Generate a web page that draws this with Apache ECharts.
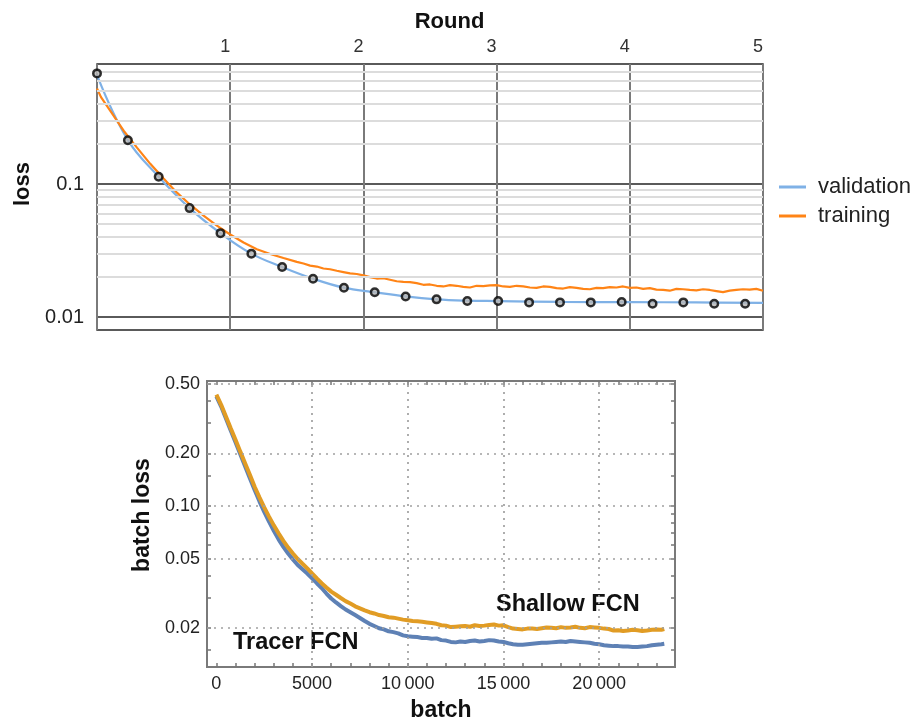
<!DOCTYPE html>
<html>
<head>
<meta charset="utf-8">
<script src="https://cdn.jsdelivr.net/npm/echarts@6/dist/echarts.min.js"></script>
<style>
html,body{margin:0;padding:0;background:#fff;}
#chart{width:912px;height:724px;}
</style>
</head>
<body>
<div id="chart"></div>
<script>
// ---------- Top chart data (loss vs Round) ----------
var valRound = [0, 0.232, 0.463, 0.695, 0.927, 1.159, 1.390, 1.622, 1.854, 2.085, 2.317, 2.549, 2.780, 3.012, 3.244, 3.476, 3.707, 3.939, 4.171, 4.402, 4.634, 4.866];
var valLoss  = [0.68, 0.214, 0.1135, 0.066, 0.0428, 0.030, 0.0238, 0.01945, 0.01664, 0.0154, 0.0143, 0.0136, 0.0132, 0.0132, 0.0129, 0.0129, 0.0129, 0.0130, 0.0126, 0.0129, 0.0126, 0.0126];
var valCurveRound = [0, 0.232, 0.463, 0.695, 0.927, 1.159, 1.390, 1.622, 1.854, 2.085, 2.317, 2.549, 2.780, 3.012, 3.5, 4.0, 4.5, 5.0];
var valCurveLoss  = [0.66, 0.214, 0.1135, 0.066, 0.0428, 0.030, 0.0238, 0.01945, 0.01664, 0.0154, 0.0143, 0.0136, 0.0133, 0.0132, 0.0130, 0.01295, 0.0129, 0.0128];
var trainRound = [0, 0.03, 0.1, 0.2, 0.3, 0.4, 0.5, 0.6, 0.7, 0.8, 0.9, 1.0, 1.1, 1.2, 1.3, 1.4,
  1.5, 1.55, 1.6, 1.65, 1.7, 1.75, 1.8, 1.85, 1.9, 1.95, 2.0, 2.05, 2.1, 2.15, 2.2, 2.25, 2.3, 2.35, 2.4, 2.45,
  2.5, 2.55, 2.6, 2.65, 2.7, 2.75, 2.8, 2.85, 2.9, 2.95, 3.0, 3.05, 3.1, 3.15, 3.2, 3.25, 3.3, 3.35, 3.4, 3.45,
  3.5, 3.55, 3.6, 3.65, 3.7, 3.75, 3.8, 3.85, 3.9, 3.95, 4.0, 4.05, 4.1, 4.15, 4.2, 4.25, 4.3, 4.35, 4.4, 4.45,
  4.5, 4.55, 4.6, 4.65, 4.7, 4.75, 4.8, 4.85, 4.9, 4.95, 5.0];
var trainLoss  = [0.524, 0.451, 0.355, 0.252, 0.188, 0.142, 0.110, 0.0862, 0.0700, 0.0580, 0.0487, 0.0418, 0.0364, 0.0324, 0.0298, 0.0278,
  0.0260, 0.0253, 0.0244, 0.0240, 0.0232, 0.0229, 0.0223, 0.0218, 0.0213, 0.0211, 0.0206, 0.0200, 0.0195, 0.0196, 0.0191, 0.0186, 0.0184, 0.0183, 0.0180, 0.0175,
  0.0176, 0.0172, 0.0170, 0.0174, 0.0172, 0.0169, 0.0167, 0.0172, 0.0171, 0.0173, 0.0174, 0.0170, 0.0169, 0.0172, 0.0170, 0.0167, 0.0166, 0.0170, 0.0169, 0.0165,
  0.0164, 0.0168, 0.0166, 0.0163, 0.0162, 0.0166, 0.0165, 0.0168, 0.0167, 0.0170, 0.0166, 0.0167, 0.0163, 0.0165, 0.0161, 0.0160, 0.0158, 0.0163, 0.0162, 0.0160,
  0.0159, 0.0162, 0.0160, 0.0157, 0.0154, 0.0158, 0.0160, 0.0162, 0.0161, 0.0163, 0.0158];
var topYLabels = [0.01, 0.1];
var topMinorGrid = [0.02, 0.03, 0.04, 0.05, 0.06, 0.07, 0.08, 0.09, 0.2, 0.3, 0.4, 0.5, 0.6, 0.7];

// ---------- Bottom chart data (batch loss vs batch) ----------
var batchSteps = [0, 250, 500, 750, 1000, 1250, 1500, 1750, 2000, 2250, 2500, 2750, 3000, 3250, 3500, 3750, 4000, 4250, 4500, 4750,
  5000, 5250, 5500, 5750, 6000, 6250, 6500, 6750, 7000, 7250, 7500, 7750, 8000, 8250, 8500, 8750, 9000, 9250, 9500, 9750,
  10000, 10250, 10500, 10750, 11000, 11250, 11500, 11750, 12000, 12250, 12500, 12750, 13000, 13250, 13500, 13750, 14000, 14250, 14500, 14750,
  15000, 15250, 15500, 15750, 16000, 16250, 16500, 16750, 17000, 17250, 17500, 17750, 18000, 18250, 18500, 18750, 19000, 19250, 19500, 19750,
  20000, 20250, 20500, 20750, 21000, 21250, 21500, 21750, 22000, 22250, 22500, 22750, 23000, 23250, 23400];
var shallowLoss = [0.435, 0.380, 0.326, 0.279, 0.240, 0.205, 0.176, 0.151, 0.129, 0.1123, 0.0983, 0.0871, 0.0776, 0.0698, 0.0633, 0.0579, 0.0536, 0.0498, 0.0468, 0.0440,
  0.0412, 0.0386, 0.0362, 0.0342, 0.0324, 0.0311, 0.0298, 0.0286, 0.0277, 0.0267, 0.0260, 0.0253, 0.0247, 0.0243, 0.0238, 0.0235, 0.0231, 0.0230, 0.0227, 0.0224,
  0.0222, 0.0220, 0.0219, 0.0218, 0.0216, 0.0214, 0.0212, 0.0208, 0.0207, 0.0203, 0.0204, 0.0205, 0.0206, 0.0204, 0.0208, 0.0206, 0.0207, 0.0209, 0.0210, 0.0207,
  0.0208, 0.0203, 0.0199, 0.0198, 0.0197, 0.0199, 0.0199, 0.0198, 0.0200, 0.0202, 0.0201, 0.0200, 0.0203, 0.0201, 0.0202, 0.0204, 0.0201, 0.0200, 0.0203, 0.0202,
  0.0201, 0.0199, 0.0198, 0.0194, 0.0195, 0.0193, 0.0194, 0.0196, 0.0195, 0.0193, 0.0194, 0.0196, 0.0197, 0.0196, 0.0198];
var tracerLoss  = [0.425, 0.371, 0.3175, 0.2708, 0.232, 0.198, 0.1693, 0.1443, 0.1235, 0.1065, 0.0927, 0.0815, 0.0722, 0.0645, 0.0585, 0.0535, 0.0495, 0.0460, 0.0435, 0.0411,
  0.0386, 0.0362, 0.0340, 0.0316, 0.0296, 0.0281, 0.0268, 0.0256, 0.0247, 0.0238, 0.0229, 0.0220, 0.0212, 0.0206, 0.0200, 0.0197, 0.0192, 0.0190, 0.0187, 0.0182,
  0.0180, 0.0179, 0.0178, 0.0176, 0.0176, 0.0174, 0.0175, 0.0171, 0.0170, 0.0167, 0.0166, 0.0168, 0.0167, 0.0169, 0.0170, 0.0168, 0.0169, 0.0171, 0.0170, 0.0168,
  0.0167, 0.0164, 0.0162, 0.0161, 0.0161, 0.0162, 0.0163, 0.0164, 0.0165, 0.0165, 0.0166, 0.0167, 0.0168, 0.0167, 0.0169, 0.0168, 0.0167, 0.0166, 0.0165, 0.0163,
  0.0162, 0.0160, 0.0159, 0.0158, 0.0158, 0.0157, 0.0157, 0.0156, 0.0156, 0.0157, 0.0158, 0.0160, 0.0161, 0.0162, 0.0163];
var batchTicks = [0, 5000, 10000, 15000, 20000];
var batchMinorTicks = [0, 1000, 2000, 3000, 4000, 5000, 6000, 7000, 8000, 9000, 10000, 11000, 12000, 13000, 14000, 15000, 16000, 17000, 18000, 19000, 20000, 21000, 22000, 23000];
var lossTicks = [0.02, 0.05, 0.1, 0.2, 0.5];
var lossAllTicks = [0.015, 0.02, 0.03, 0.04, 0.05, 0.06, 0.07, 0.08, 0.09, 0.1, 0.15, 0.2, 0.3, 0.4, 0.5];
var batchGrid = [5000, 10000, 15000, 20000];

function zip(a, b) { return a.map(function (v, i) { return [v, b[i]]; }); }

var FONT = '"Liberation Sans", Arial, sans-serif';
var chart = echarts.init(document.getElementById('chart'), null, {renderer: 'canvas'});

var tickStyle = {color: '#777', width: 1.5};
var option = {
  animation: false,
  backgroundColor: '#fff',
  textStyle: {fontFamily: FONT},
  grid: [
    {left: 97, top: 64, width: 666, height: 266, show: true, borderColor: '#8c8c8c', borderWidth: 2, containLabel: false},
    {left: 207, top: 381, width: 468, height: 286, show: true, borderColor: '#7a7a7a', borderWidth: 2, containLabel: false}
  ],
  legend: {
    data: ['validation', 'training'],
    orient: 'vertical',
    left: 774, top: 171,
    icon: 'rect', itemWidth: 27, itemHeight: 3, itemGap: 7,
    textStyle: {fontSize: 22, color: '#222', fontFamily: FONT, padding: [0, 0, 0, 7]}
  },
  xAxis: [
    {
      gridIndex: 0, type: 'value', position: 'top', min: 0, max: 5, interval: 1,
      axisLine: {show: false, onZero: false}, axisTick: {show: false},
      axisLabel: {fontSize: 18, color: '#333', margin: 8, padding: [0, 10, 0, 0],
        formatter: function (v) { return v === 0 ? '' : String(v); }},
      splitLine: {show: true, lineStyle: {color: '#7a7a7a', width: 2}},
      name: 'Round', nameLocation: 'middle', nameGap: 31,
      nameTextStyle: {fontSize: 22, fontWeight: 'bold', color: '#111', padding: [0, 0, 0, 39]}
    },
    {
      gridIndex: 1, type: 'value', position: 'bottom', min: -490, max: 23960,
      axisLine: {show: false, onZero: false},
      axisTick: {show: true, inside: true, length: 4, customValues: batchMinorTicks, lineStyle: tickStyle},
      axisLabel: {fontSize: 18, color: '#222', margin: 8, customValues: batchTicks,
        formatter: function (v) { return v >= 10000 ? String(Math.floor(v / 1000)) + '\u2009' + '000' : String(v); }},
      splitLine: {show: false},
      name: 'batch', nameLocation: 'middle', nameGap: 32,
      nameTextStyle: {fontSize: 23, fontWeight: 'bold', color: '#111'}
    },
    {
      gridIndex: 1, type: 'value', position: 'top', min: -490, max: 23960,
      axisLine: {show: false, onZero: false},
      axisTick: {show: true, inside: true, length: 4, customValues: batchMinorTicks, lineStyle: tickStyle},
      axisLabel: {show: false}, splitLine: {show: false}
    }
  ],
  yAxis: [
    {
      gridIndex: 0, type: 'log', min: 0.008, max: 0.8,
      axisLine: {show: false, onZero: false}, axisTick: {show: false},
      axisLabel: {fontSize: 20, color: '#222', margin: 13, customValues: topYLabels,
        formatter: function (v) { return v > 0.05 ? '0.1' : '0.01'; }},
      splitLine: {show: true, lineStyle: {color: '#5a5a5a', width: 2}},
      name: 'loss', nameLocation: 'middle', nameGap: 60,
      nameTextStyle: {fontSize: 22, fontWeight: 'bold', color: '#111', padding: [0, 0, 0, 26]}
    },
    {
      gridIndex: 1, type: 'log', min: 0.012, max: 0.52, position: 'left',
      axisLine: {show: false, onZero: false},
      axisTick: {show: true, inside: true, length: 4, customValues: lossAllTicks, lineStyle: tickStyle},
      axisLabel: {fontSize: 18, color: '#222', margin: 7, customValues: lossTicks,
        formatter: function (v) { return v.toFixed(2); }},
      splitLine: {show: false},
      name: 'batch loss', nameLocation: 'middle', nameGap: 52,
      nameTextStyle: {fontSize: 23, fontWeight: 'bold', color: '#111', padding: [0, 0, 0, 18]}
    },
    {
      gridIndex: 1, type: 'log', min: 0.012, max: 0.52, position: 'right',
      axisLine: {show: false, onZero: false},
      axisTick: {show: true, inside: true, length: 4, customValues: lossAllTicks, lineStyle: tickStyle},
      axisLabel: {show: false}, splitLine: {show: false}
    }
  ],
  graphic: [
    {type: 'text', left: 233, top: 631, style: {text: 'Tracer FCN', font: 'bold 23.5px ' + FONT, fill: '#111'}},
    {type: 'text', left: 496, top: 593, style: {text: 'Shallow FCN', font: 'bold 23.5px ' + FONT, fill: '#111'}}
  ],
  series: [
    {
      name: 'minor grid', type: 'line', xAxisIndex: 0, yAxisIndex: 0, z: 1,
      data: [], silent: true,
      markLine: {silent: true, symbol: 'none', label: {show: false}, animation: false,
        lineStyle: {color: '#dcdcdc', width: 2, type: 'solid'},
        data: topMinorGrid.map(function (v) { return {yAxis: v}; })}
    },
    {
      name: 'validation', type: 'line', xAxisIndex: 0, yAxisIndex: 0, z: 3,
      data: zip(valCurveRound, valCurveLoss), smooth: 0.4, showSymbol: false,
      lineStyle: {color: '#7fb1e6', width: 2.2}, itemStyle: {color: '#7fb1e6'}
    },
    {
      name: 'training', type: 'line', xAxisIndex: 0, yAxisIndex: 0, z: 4,
      data: zip(trainRound, trainLoss), showSymbol: false,
      lineStyle: {color: '#ff8416', width: 2.2}, itemStyle: {color: '#ff8416'}
    },
    {
      name: 'validation points', type: 'scatter', xAxisIndex: 0, yAxisIndex: 0, z: 5,
      data: zip(valRound, valLoss), symbol: 'circle', symbolSize: 7.5,
      itemStyle: {color: '#b5b5b5', borderColor: '#000', borderWidth: 2.5}
    },
    {
      name: 'bottom grid', type: 'line', xAxisIndex: 1, yAxisIndex: 1, z: 1,
      data: [], silent: true,
      markLine: {silent: true, symbol: 'none', label: {show: false}, animation: false,
        lineStyle: {color: '#a0a0a0', width: 1.7, type: [2, 5]},
        data: batchGrid.map(function (v) { return {xAxis: v}; }).concat(lossTicks.map(function (v) { return {yAxis: v}; }))}
    },
    {
      name: 'Tracer FCN', type: 'line', xAxisIndex: 1, yAxisIndex: 1, z: 3,
      data: zip(batchSteps, tracerLoss), showSymbol: false,
      lineStyle: {color: '#5E81B5', width: 4}, itemStyle: {color: '#5E81B5'}
    },
    {
      name: 'Shallow FCN', type: 'line', xAxisIndex: 1, yAxisIndex: 1, z: 4,
      data: zip(batchSteps, shallowLoss), showSymbol: false,
      lineStyle: {color: '#E19C24', width: 4}, itemStyle: {color: '#E19C24'}
    }
  ]
};
chart.setOption(option);
</script>
</body>
</html>
